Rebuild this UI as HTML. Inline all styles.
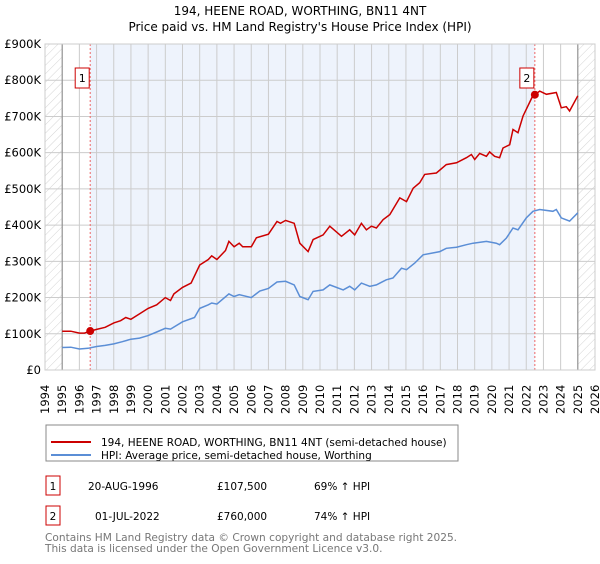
<!DOCTYPE html>
<html><head><meta charset="utf-8"><style>
body{margin:0;background:#fff;width:600px;height:560px;overflow:hidden;font-family:"DejaVu Sans","Liberation Sans",sans-serif}
</style></head><body>
<svg id="chart" width="600" height="560" xmlns="http://www.w3.org/2000/svg" font-family="DejaVu Sans, Liberation Sans, sans-serif">
<defs>
<pattern id="hatch" patternUnits="userSpaceOnUse" width="6" height="6" patternTransform="rotate(45)">
<line x1="0" y1="0" x2="0" y2="6" stroke="#d4d4d4" stroke-width="1"/></pattern>
</defs>
<text x="300" y="15" text-anchor="middle" font-size="12">194, HEENE ROAD, WORTHING, BN11 4NT</text>
<text x="300" y="31" text-anchor="middle" font-size="12">Price paid vs. HM Land Registry's House Price Index (HPI)</text>
<g id="plot"></g>
<g>
<rect x="46" y="425" width="412" height="36" fill="#fff" stroke="#888"/>
<line x1="51" y1="442" x2="91" y2="442" stroke="#cc0000" stroke-width="2"/>
<text x="101" y="446" font-size="10.5">194, HEENE ROAD, WORTHING, BN11 4NT (semi-detached house)</text>
<line x1="51" y1="455" x2="91" y2="455" stroke="#5b8ed6" stroke-width="2"/>
<text x="101" y="459" font-size="10.5">HPI: Average price, semi-detached house, Worthing</text>
</g>
<g font-size="10.5">
<rect x="46" y="476" width="14" height="19" fill="#fff" stroke="#cc0000"/>
<text x="53" y="490" text-anchor="middle">1</text>
<text x="88" y="490">20-AUG-1996</text>
<text x="217" y="490">£107,500</text>
<text x="314" y="490">69% ↑ HPI</text>
<rect x="46" y="506" width="14" height="19" fill="#fff" stroke="#cc0000"/>
<text x="53" y="520" text-anchor="middle">2</text>
<text x="95" y="520">01-JUL-2022</text>
<text x="217" y="520">£760,000</text>
<text x="314" y="520">74% ↑ HPI</text>
</g>
<text x="45" y="541" font-size="10.6" fill="#777">Contains HM Land Registry data © Crown copyright and database right 2025.</text>
<text x="45" y="552" font-size="10.6" fill="#777">This data is licensed under the Open Government Licence v3.0.</text>
</svg>
<script>
const yTicks=[0,100,200,300,400,500,600,700,800,900];
const yearTicks=[1994,1995,1996,1997,1998,1999,2000,2001,2002,2003,2004,2005,2006,2007,2008,2009,2010,2011,2012,2013,2014,2015,2016,2017,2018,2019,2020,2021,2022,2023,2024,2025,2026];
const redYears=[1995,1995.5,1996,1996.3,1996.63,1997,1997.5,1998,1998.4,1998.7,1999,1999.5,2000,2000.5,2001,2001.3,2001.5,2002,2002.5,2003,2003.5,2003.7,2004,2004.5,2004.7,2005,2005.3,2005.5,2006,2006.3,2007,2007.5,2007.7,2008,2008.5,2008.826,2009.31,2009.60,2010.18,2010.57,2011.25,2011.73,2012.02,2012.41,2012.70,2012.99,2013.28,2013.67,2014.06,2014.64,2015.03,2015.42,2015.80,2016.09,2016.77,2017.35,2017.94,2018.52,2018.81,2019.0,2019.29,2019.68,2019.87,2020.16,2020.45,2020.65,2021.04,2021.23,2021.52,2021.81,2022.39,2022.5,2022.78,2023.17,2023.75,2024.04,2024.33,2024.52,2025.0];
const redValues=[107,107,102,102,107.5,112,118,130,136,145,140,155,170,180,200,192,210,228,240,290,305,315,305,330,355,340,350,340,340,365,375,410,405,413,405,350,327,360,373,397,369,387,373,405,387,397,392,415,429,475,465,502,517,540,544,567,572,586,595,581,598,590,602,590,586,613,622,664,655,701,758,760,770,761,766,724,727,715,757];
const blueYears=[1995,1995.5,1996,1996.5,1997,1997.5,1998,1998.5,1999,1999.5,2000,2000.5,2001,2001.3,2002,2002.7,2003,2003.5,2003.7,2004,2004.7,2005,2005.3,2006,2006.5,2007,2007.5,2008,2008.5,2008.826,2009.31,2009.60,2010.18,2010.57,2011.35,2011.73,2012.02,2012.41,2012.90,2013.28,2013.86,2014.25,2014.74,2015.03,2015.51,2016.0,2016.97,2017.35,2017.94,2018.52,2018.91,2019.68,2020.26,2020.45,2020.84,2021.23,2021.52,2022.0,2022.39,2022.78,2023.55,2023.75,2024.04,2024.52,2025.0];
const blueValues=[62,63,58,60,65,68,72,78,85,88,95,105,115,113,133,145,170,180,185,182,210,203,208,200,218,225,243,245,235,203,194,217,221,235,221,231,221,240,231,235,249,254,281,277,295,318,327,336,339,346,350,355,350,346,364,392,387,420,438,443,438,443,420,411,434];
const sales=[{label:'1',year:1996.63,value:107.5},{label:'2',year:2022.5,value:760}];

const NS='http://www.w3.org/2000/svg';
const X0=45,X1=595,Y0=370,Y1=44;
const xs=y=>X0+(y-1994)/(2026-1994)*(X1-X0);
const ys=v=>Y0-v/900*(Y0-Y1);
const plot=document.getElementById('plot');
function mk(tag,attrs,parent){const e=document.createElementNS(NS,tag);for(const k in attrs)e.setAttribute(k,attrs[k]);(parent||plot).appendChild(e);return e;}

let e=mk('rect',{x:X0,y:Y1,width:X1-X0,height:Y0-Y1,fill:'#fff'});


e=mk('rect',{x:xs(sales[0].year),y:Y1,width:xs(sales[1].year)-xs(sales[0].year),height:Y0-Y1,fill:'#eef3fc'});


e=mk('rect',{x:X0,y:Y1,width:xs(1995)-X0,height:Y0-Y1,fill:'url(#hatch)'});


e=mk('rect',{x:xs(2025),y:Y1,width:X1-xs(2025),height:Y0-Y1,fill:'url(#hatch)'});



yTicks.forEach(v=>{
  const g=mk('line',{x1:X0,x2:X1,y1:ys(v*1),y2:ys(v*1),stroke:'#ccc','stroke-width':1});
  
  
  const t=mk('text',{x:X0-4,y:ys(v)+4,'text-anchor':'end','font-size':11.5});
  t.textContent=v===0?'£0':'£'+v+'K';
  
  
});
yearTicks.forEach(yr=>{
  const g=mk('line',{x1:xs(yr),x2:xs(yr),y1:Y1,y2:Y0,stroke:'#ccc','stroke-width':1});
  
  
  const t=mk('text',{x:0,y:0,'font-size':11.5,transform:`translate(${xs(yr)+4},${Y0+44}) rotate(-90)`});
  t.textContent=yr;
  
  
});
[1995,2025].forEach(yr=>{
  const l=mk('line',{x1:xs(yr),x2:xs(yr),y1:Y1,y2:Y0,stroke:'#888','stroke-width':1});
  
  
});
sales.forEach(s=>{
  const l=mk('line',{x1:xs(s.year),x2:xs(s.year),y1:Y1,y2:Y0,stroke:'#e66','stroke-width':1,'stroke-dasharray':'2,2'});
  
  
});
function path(xsArr,vs){return xsArr.map((y,i)=>(i?'L':'M')+xs(y).toFixed(1)+','+ys(vs[i]).toFixed(1)).join('');}
e=mk('path',{d:path(blueYears,blueValues),fill:'none',stroke:'#5b8ed6','stroke-width':1.5});


e=mk('path',{d:path(redYears,redValues),fill:'none',stroke:'#cc0000','stroke-width':1.5});


sales.forEach(s=>{
  const c=mk('circle',{cx:xs(s.year),cy:ys(s.value),r:4,fill:'#cc0000'});
  
  
  const r=mk('rect',{x:xs(s.year)-15,y:68,width:14,height:20,fill:'#fff',stroke:'#cc0000'});
  
  
  const t=mk('text',{x:xs(s.year)-8,y:82,'text-anchor':'middle','font-size':11});
  t.textContent=s.label;
  
  
});
e=mk('rect',{x:X0,y:Y1,width:X1-X0,height:Y0-Y1,fill:'none',stroke:'#ccc'});


</script>
</body></html>
